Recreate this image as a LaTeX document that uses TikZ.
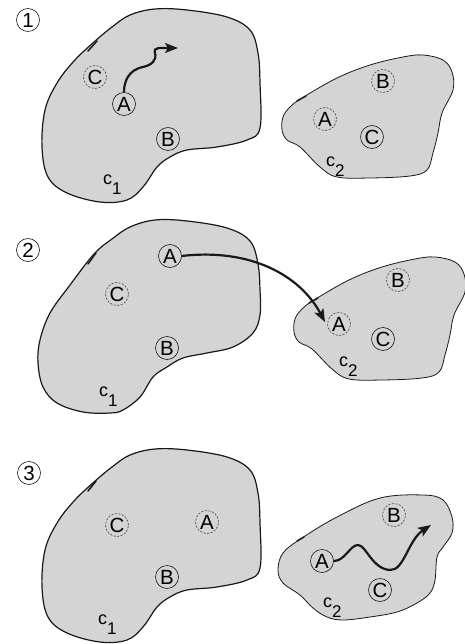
\documentclass[tikz,border=0pt]{standalone}
\usepackage{fontspec}
\setmainfont{Liberation Sans}
\usetikzlibrary{arrows.meta}
\definecolor{blobfill}{RGB}{212,212,212}
\definecolor{ink}{RGB}{25,25,25}
\begin{document}
\begin{tikzpicture}[x=1pt,y=-1pt,
  blob/.style={fill=blobfill, draw=ink, line width=1.2pt},
  sblob/.style={fill=blobfill, draw=ink, line width=0.8pt},
  pt/.style={circle, draw=ink, line width=0.6pt, minimum size=23pt, inner sep=0pt, font=\fontsize{20.5}{20.5}\selectfont},
  ghost/.style={pt, dash pattern=on 2.2pt off 1.4pt, draw=ink!80},
  numlabel/.style={pt},
  lbl/.style={font=\fontsize{18}{18}\selectfont, inner sep=0pt, anchor=base west},
  move/.style={line width=2.2pt, draw=ink, -{Stealth[length=13pt,width=10pt,inset=3pt]}},
  tickmark/.style={line width=1.5pt, draw=ink, line cap=round}]
\useasboundingbox (0,0) rectangle (464,644);
\newcommand{\subdigit}[1]{\raisebox{-10pt}{\fontsize{17}{17}\selectfont #1}}

% ---------- blobs ----------
\draw[blob] plot[smooth cycle, tension=0.6] coordinates {(94,42) (112,27) (130,15) (155,9) (187,10) (227,17) (250,30) (258,53) (260,83) (260,128) (247,140) (217,147) (187,150) (170,157) (157,167) (143,187) (127,200) (100,202) (67,193) (48,177) (42,147) (45,110) (57,83) (74,61)};
\draw[sblob] plot[smooth cycle, tension=0.6] coordinates {(302,98) (337,78) (370,65) (403,57) (423,55) (443,60) (452,72) (453,90) (442,113) (438,133) (433,153) (427,170) (410,176) (370,178) (337,177) (320,167) (300,147) (287,140) (282,130) (283,117) (290,107)};

\draw[blob] plot[smooth cycle, tension=0.6] coordinates {(94,254) (112,239) (130,227) (155,220) (187,221) (227,228) (250,241) (258,264) (260,290) (260,315) (253,333) (233,347) (207,353) (183,358) (167,367) (153,377) (140,397) (123,410) (110,413) (83,412) (57,403) (43,387) (38,363) (40,340) (50,313) (70,285)};
\draw[sblob] plot[smooth cycle, tension=0.6] coordinates {(314,300) (349,280) (382,267) (415,259) (435,257) (455,262) (464,274) (465,292) (454,315) (450,335) (445,355) (439,372) (422,378) (382,380) (349,379) (332,369) (312,349) (299,342) (294,332) (295,319) (302,309)};

\draw[blob] plot[smooth cycle, tension=0.6] coordinates {(94,482) (112,467) (130,455) (155,449) (187,450) (227,457) (250,470) (258,493) (260,523) (260,568) (247,580) (217,587) (187,590) (170,597) (157,607) (143,627) (127,640) (100,642) (67,633) (48,617) (42,587) (45,550) (57,523) (74,501)};
\draw[sblob] plot[smooth cycle, tension=0.6] coordinates {(302,538) (337,517) (380,498) (423,495) (443,500) (452,517) (452,533) (443,547) (437,557) (435,580) (430,593) (417,603) (397,612) (370,617) (343,620) (327,617) (313,608) (300,595) (283,583) (278,570) (283,553)};

% ---------- ticks on outlines ----------
\draw[tickmark] (88,51) -- (97,41);
\draw[tickmark] (297,101) -- (306,96);
\draw[tickmark] (88,264) -- (96,253);
\draw[tickmark] (309,303) -- (318,298);
\draw[tickmark] (88,491) -- (96,481);
\draw[tickmark] (297,541) -- (304,537);

% ---------- step numbers ----------
\node[numlabel] (n1) at (28,20) {1};
\node[numlabel] (n2) at (28,250) {2};
\node[numlabel] (n3) at (29,473) {3};

% ---------- panel 1 ----------
\node[ghost] (C1) at (95,77) {C};
\node[pt] (A1) at (124,104) {A};
\node[pt] (B1) at (168,139) {B};
\node[ghost] (B1s) at (383,81) {B};
\node[ghost] (A1s) at (325,119) {A};
\node[pt] (C1s) at (372,137) {C};
\node[lbl] (c11) at (103,185) {c\subdigit{1}};
\node[lbl] (c12) at (326,167) {c\subdigit{2}};
\coordinate (t1) at (178,48);
\draw[move] (A1.north) .. controls (124,82) and (128,70) .. (143,67) .. controls (152,65) and (157,60) .. (155,53) .. controls (153,47) and (160,48) .. (t1);

% ---------- panel 2 ----------
\node[pt] (A2) at (170,256) {A};
\node[ghost] (C2) at (117,294) {C};
\node[pt] (B2) at (167,348) {B};
\node[ghost] (B2s) at (398,280) {B};
\node[ghost] (A2s) at (339,324) {A};
\node[pt] (C2s) at (383,339) {C};
\node[lbl] (c21) at (99,396) {c\subdigit{1}};
\node[lbl] (c22) at (339,366) {c\subdigit{2}};
\coordinate (t2) at (325,322);
\draw[move] (A2.east) .. controls (250,248) and (300,275) .. (t2);

% ---------- panel 3 ----------
\node[ghost] (C3) at (117,525) {C};
\node[ghost] (A3) at (207,522) {A};
\node[pt] (B3) at (167,577) {B};
\node[ghost] (B3s) at (394,515) {B};
\node[pt] (A3s) at (322,561) {A};
\node[pt] (C3s) at (380,590) {C};
\node[lbl] (c31) at (98,624) {c\subdigit{1}};
\node[lbl] (c32) at (323,607) {c\subdigit{2}};
\coordinate (t3) at (431,525);
\draw[move] (A3s.east) .. controls (345,561) and (350,545) .. (358,545) .. controls (366,545) and (372,569) .. (390,570) .. controls (404,571) and (408,540) .. (t3);
\end{tikzpicture}
\end{document}
